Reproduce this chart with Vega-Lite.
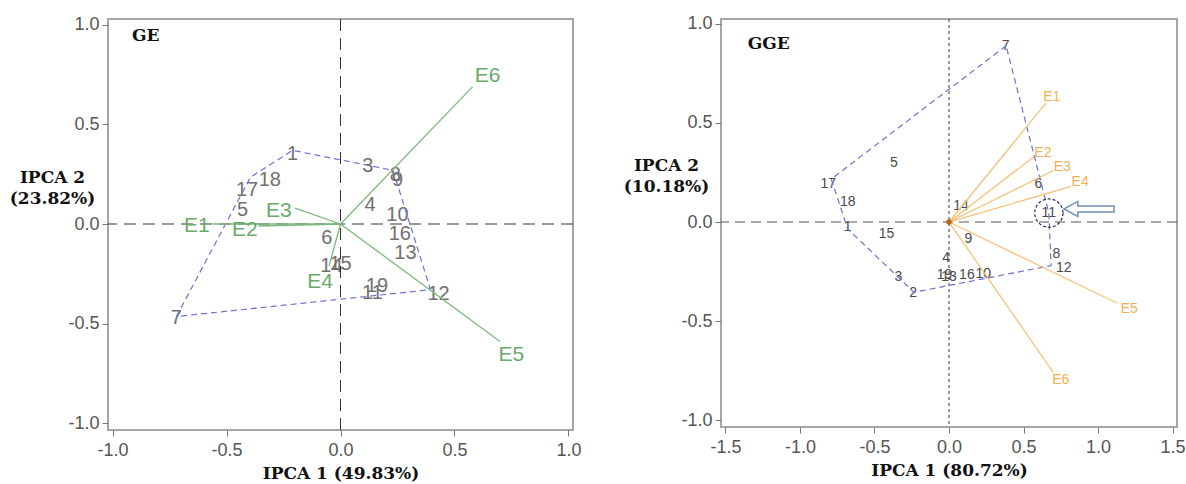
{
  "$schema": "https://vega.github.io/schema/vega-lite/v6.json",
  "background": "white",
  "padding": {"left": 8, "top": 13, "right": 5, "bottom": 5},
  "spacing": 148,
  "bounds": "flush",
  "config": {
    "view": {"stroke": "#a6a6a6", "strokeWidth": 2},
    "axis": {"grid": false, "domain": false, "tickColor": "#777", "tickSize": 6, "labelFont": "Liberation Sans", "labelFontSize": 18, "labelColor": "#555", "titleFont": "DejaVu Serif", "titleFontWeight": "bold", "titleFontSize": 17, "titleColor": "#111", "labelExpr": "replace(format(datum.value, '.1f'), '−', '-')"},
    "text": {"font": "Liberation Sans"}
  },
  "datasets": {
    "one": [{"origin": 0}],
    "ge_gen": [
      {"label": "1", "x": -0.21, "y": 0.35},
      {"label": "3", "x": 0.12, "y": 0.29},
      {"label": "4", "x": 0.13, "y": 0.095},
      {"label": "5", "x": -0.43, "y": 0.07},
      {"label": "6", "x": -0.06, "y": -0.07},
      {"label": "7", "x": -0.72, "y": -0.47},
      {"label": "8", "x": 0.24, "y": 0.245},
      {"label": "9", "x": 0.25, "y": 0.22},
      {"label": "10", "x": 0.25, "y": 0.045},
      {"label": "11", "x": 0.14, "y": -0.345},
      {"label": "12", "x": 0.43, "y": -0.35},
      {"label": "13", "x": 0.285, "y": -0.145},
      {"label": "14", "x": -0.04, "y": -0.21},
      {"label": "15", "x": 0.0, "y": -0.2},
      {"label": "16", "x": 0.26, "y": -0.05},
      {"label": "17", "x": -0.41, "y": 0.17},
      {"label": "18", "x": -0.31, "y": 0.22},
      {"label": "19", "x": 0.16, "y": -0.31}
    ],
    "ge_env": [
      {"label": "E1", "x0": 0, "y0": 0, "x": -0.56, "y": 0.0, "tx": -0.63, "ty": -0.01},
      {"label": "E2", "x0": 0, "y0": 0, "x": -0.36, "y": -0.01, "tx": -0.42, "ty": -0.03},
      {"label": "E3", "x0": 0, "y0": 0, "x": -0.2, "y": 0.08, "tx": -0.27, "ty": 0.065},
      {"label": "E4", "x0": 0, "y0": 0, "x": -0.05, "y": -0.21, "tx": -0.09, "ty": -0.29},
      {"label": "E5", "x0": 0, "y0": 0, "x": 0.7, "y": -0.59, "tx": 0.75, "ty": -0.66},
      {"label": "E6", "x0": 0, "y0": 0, "x": 0.58, "y": 0.69, "tx": 0.645, "ty": 0.745}
    ],
    "ge_hull": [
      {"order": 1, "x": -0.72, "y": -0.465},
      {"order": 2, "x": -0.395, "y": 0.235},
      {"order": 3, "x": -0.21, "y": 0.37},
      {"order": 4, "x": 0.23, "y": 0.27},
      {"order": 5, "x": 0.395, "y": -0.33},
      {"order": 6, "x": -0.72, "y": -0.465}
    ],
    "gge_gen": [
      {"label": "1", "x": -0.68, "y": -0.025},
      {"label": "2", "x": -0.24, "y": -0.36},
      {"label": "3", "x": -0.34, "y": -0.28},
      {"label": "4", "x": -0.02, "y": -0.18},
      {"label": "5", "x": -0.37, "y": 0.3},
      {"label": "6", "x": 0.6, "y": 0.19},
      {"label": "7", "x": 0.38, "y": 0.89},
      {"label": "8", "x": 0.72, "y": -0.16},
      {"label": "9", "x": 0.13, "y": -0.085},
      {"label": "10", "x": 0.23, "y": -0.265},
      {"label": "11", "x": 0.67, "y": 0.045},
      {"label": "12", "x": 0.77, "y": -0.23},
      {"label": "13", "x": 0.0, "y": -0.28},
      {"label": "14", "x": 0.08, "y": 0.08},
      {"label": "15", "x": -0.42, "y": -0.06},
      {"label": "16", "x": 0.12, "y": -0.27},
      {"label": "17", "x": -0.81, "y": 0.19},
      {"label": "18", "x": -0.68, "y": 0.1},
      {"label": "19", "x": -0.03, "y": -0.27}
    ],
    "gge_env": [
      {"label": "E1", "x0": 0, "y0": 0, "x": 0.65, "y": 0.6, "tx": 0.69, "ty": 0.63},
      {"label": "E2", "x0": 0, "y0": 0, "x": 0.57, "y": 0.33, "tx": 0.63, "ty": 0.35},
      {"label": "E3", "x0": 0, "y0": 0, "x": 0.7, "y": 0.26, "tx": 0.76, "ty": 0.28},
      {"label": "E4", "x0": 0, "y0": 0, "x": 0.82, "y": 0.18, "tx": 0.88, "ty": 0.2},
      {"label": "E5", "x0": 0, "y0": 0, "x": 1.13, "y": -0.41, "tx": 1.21, "ty": -0.44},
      {"label": "E6", "x0": 0, "y0": 0, "x": 0.7, "y": -0.76, "tx": 0.75, "ty": -0.8}
    ],
    "gge_hull": [
      {"order": 1, "x": 0.383, "y": 0.89},
      {"order": 2, "x": -0.79, "y": 0.217},
      {"order": 3, "x": -0.68, "y": -0.035},
      {"order": 4, "x": -0.235, "y": -0.355},
      {"order": 5, "x": 0.685, "y": -0.22},
      {"order": 6, "x": 0.67, "y": 0.045},
      {"order": 7, "x": 0.383, "y": 0.89}
    ],
    "gge_mark": [{"label": "11", "x": 0.67, "y": 0.045}],
    "gge_arrow": [{"x": 0.94, "y": 0.066}],
    "titles": [{"panel": "GE", "x": -0.915, "y": 0.945}, {"panel": "GGE", "x": -1.35, "y": 0.9}]
  },
  "hconcat": [
    {
      "width": 465,
      "height": 411,
      "layer": [
        {
          "data": {"name": "ge_gen"},
          "mark": {"type": "text", "fontSize": 20, "color": "#707070"},
          "encoding": {
            "x": {"field": "x", "type": "quantitative", "scale": {"domain": [-1.02, 1.02], "nice": false, "zero": false},
                  "axis": {"values": [-1, -0.5, 0, 0.5, 1], "title": "IPCA 1 (49.83%)", "labelPadding": 5, "titlePadding": 6}},
            "y": {"field": "y", "type": "quantitative", "scale": {"domain": [-1.035, 1.03], "nice": false, "zero": false},
                  "axis": {"values": [-1, -0.5, 0, 0.5, 1], "title": ["IPCA 2", "(23.82%)"], "titleAngle": 0, "titleAlign": "center", "titleBaseline": "top", "titleX": -56, "titleY": 150, "titleLineHeight": 21, "labelPadding": 3}},
            "text": {"field": "label"}
          }
        },
        {"data": {"name": "one"}, "mark": {"type": "rule", "color": "#333", "strokeDash": [12, 7], "strokeWidth": 1}, "encoding": {"x": {"field": "origin", "type": "quantitative"}}},
        {"data": {"name": "one"}, "mark": {"type": "rule", "color": "#333", "strokeDash": [12, 7], "strokeWidth": 1}, "encoding": {"y": {"field": "origin", "type": "quantitative"}}},
        {
          "data": {"name": "ge_hull"},
          "mark": {"type": "line", "color": "#6f6fd8", "strokeDash": [6, 4], "strokeWidth": 1.2},
          "encoding": {"x": {"field": "x", "type": "quantitative"}, "y": {"field": "y", "type": "quantitative"}, "order": {"field": "order", "type": "quantitative"}}
        },
        {
          "data": {"name": "ge_env"},
          "mark": {"type": "rule", "color": "#7cb87c", "strokeWidth": 1.3},
          "encoding": {"x": {"field": "x0", "type": "quantitative"}, "y": {"field": "y0", "type": "quantitative"}, "x2": {"field": "x"}, "y2": {"field": "y"}}
        },
        {
          "data": {"name": "ge_env"},
          "mark": {"type": "text", "fontSize": 21, "color": "#6aaa6a"},
          "encoding": {"x": {"field": "tx", "type": "quantitative"}, "y": {"field": "ty", "type": "quantitative"}, "text": {"field": "label"}}
        },
        {
          "data": {"name": "titles"},
          "transform": [{"filter": "datum.panel === 'GE'"}],
          "mark": {"type": "text", "font": "DejaVu Serif", "fontWeight": "bold", "fontSize": 17, "align": "left", "color": "#111"},
          "encoding": {"x": {"field": "x", "type": "quantitative"}, "y": {"field": "y", "type": "quantitative"}, "text": {"field": "panel"}}
        }
      ]
    },
    {
      "width": 456,
      "height": 408,
      "layer": [
        {
          "data": {"name": "gge_gen"},
          "mark": {"type": "text", "fontSize": 14, "color": "#4a4a4a"},
          "encoding": {
            "x": {"field": "x", "type": "quantitative", "scale": {"domain": [-1.53, 1.53], "nice": false, "zero": false},
                  "axis": {"values": [-1.5, -1, -0.5, 0, 0.5, 1, 1.5], "title": "IPCA 1 (80.72%)", "labelPadding": 5, "titlePadding": 6}},
            "y": {"field": "y", "type": "quantitative", "scale": {"domain": [-1.035, 1.025], "nice": false, "zero": false},
                  "axis": {"values": [-1, -0.5, 0, 0.5, 1], "title": ["IPCA 2", "(10.18%)"], "titleAngle": 0, "titleAlign": "center", "titleBaseline": "top", "titleX": -55, "titleY": 138, "titleLineHeight": 21, "labelPadding": 3}},
            "text": {"field": "label"}
          }
        },
        {"data": {"name": "one"}, "mark": {"type": "rule", "color": "#333", "strokeDash": [3, 3], "strokeWidth": 1}, "encoding": {"x": {"field": "origin", "type": "quantitative"}}},
        {"data": {"name": "one"}, "mark": {"type": "rule", "color": "#555", "strokeDash": [10, 6], "strokeWidth": 1}, "encoding": {"y": {"field": "origin", "type": "quantitative"}}},
        {
          "data": {"name": "gge_hull"},
          "mark": {"type": "line", "color": "#6f6fd8", "strokeDash": [6, 4], "strokeWidth": 1.2},
          "encoding": {"x": {"field": "x", "type": "quantitative"}, "y": {"field": "y", "type": "quantitative"}, "order": {"field": "order", "type": "quantitative"}}
        },
        {
          "data": {"name": "gge_env"},
          "mark": {"type": "rule", "color": "#f6c27a", "strokeWidth": 1.3},
          "encoding": {"x": {"field": "x0", "type": "quantitative"}, "y": {"field": "y0", "type": "quantitative"}, "x2": {"field": "x"}, "y2": {"field": "y"}}
        },
        {
          "data": {"name": "gge_env"},
          "mark": {"type": "text", "fontSize": 14, "color": "#f2b050"},
          "encoding": {"x": {"field": "tx", "type": "quantitative"}, "y": {"field": "ty", "type": "quantitative"}, "text": {"field": "label"}}
        },
        {
          "data": {"name": "one"},
          "mark": {"type": "point", "filled": true, "color": "#b5651d", "size": 30, "opacity": 1},
          "encoding": {"x": {"field": "origin", "type": "quantitative"}, "y": {"field": "origin", "type": "quantitative"}}
        },
        {
          "data": {"name": "gge_mark"},
          "mark": {"type": "point", "shape": "circle", "filled": false, "color": "#2a2a4a", "strokeWidth": 1.2, "strokeDash": [3, 2], "size": 800, "opacity": 1},
          "encoding": {"x": {"field": "x", "type": "quantitative"}, "y": {"field": "y", "type": "quantitative"}}
        },
        {
          "data": {"name": "gge_arrow"},
          "mark": {"type": "point", "shape": "M-1,0L-0.45,-0.3L-0.45,-0.12L1,-0.12L1,0.12L-0.45,0.12L-0.45,0.3Z", "filled": false, "color": "#7090b8", "strokeWidth": 1.5, "size": 2500, "opacity": 1},
          "encoding": {"x": {"field": "x", "type": "quantitative"}, "y": {"field": "y", "type": "quantitative"}}
        },
        {
          "data": {"name": "titles"},
          "transform": [{"filter": "datum.panel === 'GGE'"}],
          "mark": {"type": "text", "font": "DejaVu Serif", "fontWeight": "bold", "fontSize": 17, "align": "left", "color": "#111"},
          "encoding": {"x": {"field": "x", "type": "quantitative"}, "y": {"field": "y", "type": "quantitative"}, "text": {"field": "panel"}}
        }
      ]
    }
  ]
}
